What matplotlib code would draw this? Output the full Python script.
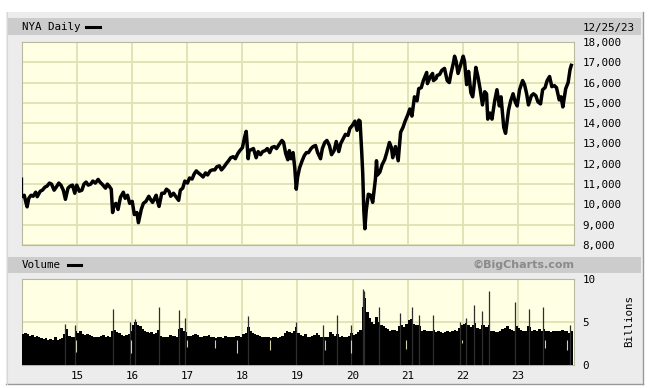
import matplotlib
matplotlib.use("Agg")
import matplotlib.pyplot as plt
import pandas as pd
from matplotlib.patches import Rectangle
from matplotlib.lines import Line2D

# ---------------- data ----------------
price_dates = [
    "2014-01-02", "2014-01-15", "2014-01-24", "2014-02-03", "2014-02-14", "2014-03-01", "2014-03-15",
    "2014-04-01", "2014-04-11", "2014-05-01", "2014-05-15", "2014-06-01", "2014-06-15", "2014-07-01",
    "2014-07-15", "2014-08-01", "2014-08-15", "2014-09-01", "2014-09-15", "2014-10-01", "2014-10-15",
    "2014-11-01", "2014-11-15", "2014-12-01", "2014-12-16", "2014-12-29",
    "2015-01-15", "2015-02-01", "2015-02-15", "2015-03-01", "2015-03-15", "2015-04-01", "2015-04-15",
    "2015-05-01", "2015-05-20", "2015-06-01", "2015-06-15", "2015-07-08", "2015-07-20", "2015-08-01",
    "2015-08-15", "2015-08-24", "2015-09-01", "2015-09-15", "2015-09-29", "2015-10-15", "2015-11-03",
    "2015-11-15", "2015-12-01", "2015-12-15",
    "2016-01-01", "2016-01-15", "2016-02-01", "2016-02-11", "2016-03-01", "2016-03-15", "2016-04-01",
    "2016-04-20", "2016-05-01", "2016-05-15", "2016-06-08", "2016-06-15", "2016-06-27", "2016-07-15",
    "2016-08-01", "2016-08-15", "2016-09-01", "2016-09-12", "2016-10-01", "2016-10-15", "2016-11-04",
    "2016-11-15", "2016-12-01", "2016-12-15",
    "2017-01-01", "2017-01-15", "2017-02-01", "2017-02-15", "2017-03-01", "2017-03-15", "2017-04-01",
    "2017-04-15", "2017-05-01", "2017-05-15", "2017-06-01", "2017-06-15", "2017-07-01", "2017-07-15",
    "2017-08-01", "2017-08-15", "2017-09-01", "2017-09-15", "2017-10-01", "2017-10-15", "2017-11-01",
    "2017-11-15", "2017-12-01", "2017-12-15",
    "2018-01-01", "2018-01-15", "2018-01-26", "2018-02-08", "2018-02-15", "2018-03-01", "2018-03-15",
    "2018-04-02", "2018-04-15", "2018-05-01", "2018-05-15", "2018-06-01", "2018-06-15", "2018-07-01",
    "2018-07-15", "2018-08-01", "2018-08-15", "2018-09-01", "2018-09-20", "2018-10-01", "2018-10-15",
    "2018-10-29", "2018-11-08", "2018-11-20", "2018-12-03", "2018-12-14", "2018-12-24",
    "2019-01-02", "2019-01-15", "2019-02-01", "2019-02-15", "2019-03-01", "2019-03-15", "2019-04-01",
    "2019-04-15", "2019-05-01", "2019-05-15", "2019-06-03", "2019-06-15", "2019-07-01", "2019-07-15",
    "2019-08-01", "2019-08-15", "2019-09-01", "2019-09-15", "2019-10-02", "2019-10-15", "2019-11-01",
    "2019-11-15", "2019-12-02", "2019-12-15",
    "2020-01-01", "2020-01-17", "2020-01-31", "2020-02-12", "2020-02-20", "2020-03-02", "2020-03-09",
    "2020-03-16", "2020-03-23", "2020-04-01", "2020-04-15", "2020-05-01", "2020-05-14", "2020-06-01",
    "2020-06-08", "2020-06-15", "2020-07-01", "2020-07-15", "2020-08-01", "2020-08-15", "2020-09-02",
    "2020-09-15", "2020-09-24", "2020-10-12", "2020-10-30", "2020-11-15", "2020-12-01", "2020-12-15",
    "2021-01-01", "2021-01-15", "2021-01-29", "2021-02-15", "2021-03-04", "2021-03-15", "2021-04-01",
    "2021-04-15", "2021-05-07", "2021-05-12", "2021-06-01", "2021-06-15", "2021-06-21", "2021-07-08",
    "2021-07-15", "2021-08-01", "2021-08-15", "2021-09-02", "2021-09-20", "2021-10-04", "2021-10-15",
    "2021-11-01", "2021-11-08", "2021-11-18", "2021-12-01", "2021-12-15",
    "2022-01-04", "2022-01-13", "2022-01-27", "2022-02-09", "2022-02-24", "2022-03-08", "2022-03-15",
    "2022-03-29", "2022-04-13", "2022-04-27", "2022-05-12", "2022-05-27", "2022-06-08", "2022-06-16",
    "2022-07-01", "2022-07-14", "2022-08-01", "2022-08-16", "2022-09-01", "2022-09-12", "2022-09-30",
    "2022-10-12", "2022-11-01", "2022-11-15", "2022-12-01", "2022-12-15", "2022-12-28",
    "2023-01-13", "2023-02-02", "2023-02-15", "2023-03-01", "2023-03-13", "2023-04-01", "2023-04-15",
    "2023-05-01", "2023-05-15", "2023-06-01", "2023-06-15", "2023-07-01", "2023-07-15", "2023-07-31",
    "2023-08-15", "2023-09-01", "2023-09-15", "2023-10-03", "2023-10-15", "2023-10-27", "2023-11-15",
    "2023-12-01", "2023-12-14", "2023-12-22",
]
price_values = [
    10400, 10450, 10150, 9880, 10300, 10450, 10400, 10600, 10380, 10650, 10700, 10850, 10900, 11050,
    11000, 10700, 10850, 11050, 10950, 10700, 10250, 10800, 10900, 10950, 10550, 10950,
    10650, 10700, 11000, 11100, 10950, 11000, 11150, 11050, 11230, 11100, 11000, 10800, 11000, 10900,
    10750, 9600, 9950, 10050, 9750, 10350, 10600, 10300, 10450, 10050,
    10150, 9500, 9600, 9100, 9750, 10050, 10150, 10400, 10250, 10100, 10450, 10200, 9900, 10550,
    10550, 10750, 10650, 10400, 10550, 10400, 10200, 10700, 10800, 11150,
    11050, 11300, 11250, 11500, 11650, 11550, 11450, 11350, 11550, 11450, 11650, 11700, 11700, 11850,
    11900, 11700, 11850, 12000, 12150, 12300, 12350, 12250, 12500, 12650,
    12800, 13300, 13600, 12250, 12650, 12700, 12750, 12300, 12600, 12450, 12600, 12650, 12750, 12550,
    12800, 12850, 12750, 12950, 13150, 13050, 12500, 12200, 12650, 12250, 12550, 11800, 10750,
    11350, 11800, 12150, 12400, 12550, 12550, 12750, 12850, 12900, 12550, 12250, 12750, 13050, 13150,
    12900, 12450, 12650, 13100, 12600, 13000, 13250, 13450, 13400, 13750,
    13900, 14100, 13650, 14150, 14100, 12600, 11500, 9700, 8800, 9700, 10500, 10450, 10100, 11250,
    12150, 11450, 11600, 11950, 12200, 12550, 13050, 12800, 12300, 12850, 12150, 13550, 13800, 14100,
    14400, 14700, 14350, 15300, 15100, 15700, 15750, 16100, 16500, 15950, 16300, 16450, 16100, 16200,
    16350, 16400, 16600, 16700, 16100, 16000, 16450, 17000, 17300, 17050, 16450, 16800,
    17300, 17050, 15900, 16550, 15500, 15300, 15700, 16750, 16250, 15650, 14900, 15550, 15450, 14200,
    14500, 14200, 15100, 15650, 14850, 15300, 13800, 13500, 14650, 15100, 15450, 15050, 14850,
    15650, 16100, 15900, 15450, 14900, 15350, 15450, 15350, 15050, 14950, 15650, 15750, 16100, 16300,
    15800, 15850, 15750, 15150, 15300, 14800, 15700, 16000, 16650, 16850,
]
first_bar_high = 11350

# volume (billions), semi-monthly levels, one row per year
vol_2014 = [3.6, 3.7, 3.6, 3.4, 3.5, 3.3, 3.4, 3.2, 3.1, 3.0, 3.1, 2.9, 3.0, 2.9, 3.2, 2.9, 3.0, 3.1, 3.6, 4.2, 3.4, 3.2, 3.3, 3.9]
vol_2015 = [3.7, 3.9, 3.6, 3.5, 3.6, 3.5, 3.4, 3.3, 3.3, 3.2, 3.4, 3.5, 3.3, 3.4, 3.2, 3.9, 4.1, 3.8, 3.7, 3.5, 3.4, 3.5, 3.6, 3.9]
vol_2016 = [4.6, 5.0, 4.7, 4.5, 4.2, 3.9, 3.8, 3.7, 3.8, 3.6, 3.7, 4.1, 3.4, 3.3, 3.2, 3.3, 3.5, 3.4, 3.4, 3.3, 4.2, 4.3, 3.9, 3.8]
vol_2017 = [3.4, 3.4, 3.5, 3.6, 3.5, 3.3, 3.3, 3.4, 3.4, 3.5, 3.2, 3.2, 3.1, 3.2, 3.3, 3.1, 3.4, 3.3, 3.2, 3.2, 3.3, 3.4, 3.4, 3.3]
vol_2018 = [3.6, 3.7, 4.4, 4.0, 3.7, 3.6, 3.5, 3.4, 3.3, 3.2, 3.3, 3.2, 3.1, 3.3, 3.2, 3.1, 3.3, 3.4, 3.7, 4.0, 3.8, 3.7, 3.9, 4.4]
vol_2019 = [3.7, 3.5, 3.4, 3.6, 3.3, 3.3, 3.4, 3.5, 3.7, 3.5, 3.3, 3.2, 3.3, 3.2, 3.8, 3.6, 3.4, 3.6, 3.3, 3.4, 3.2, 3.3, 3.4, 3.7]
vol_2020 = [3.5, 3.6, 3.8, 4.1, 6.8, 7.8, 6.2, 5.5, 5.0, 4.8, 5.6, 5.0, 4.6, 4.5, 4.3, 4.2, 4.0, 4.1, 4.1, 4.0, 4.5, 4.7, 4.4, 4.8]
vol_2021 = [5.2, 5.4, 4.8, 4.6, 4.7, 4.5, 4.0, 4.1, 3.9, 4.0, 4.0, 4.1, 3.8, 3.9, 3.8, 3.7, 3.8, 3.9, 3.8, 3.9, 4.1, 4.0, 4.3, 4.6]
vol_2022 = [4.8, 4.9, 4.6, 4.4, 4.7, 4.9, 4.3, 4.2, 4.7, 4.6, 4.4, 4.6, 3.9, 3.9, 3.8, 3.8, 4.0, 4.2, 4.3, 4.5, 4.2, 4.1, 4.0, 4.5]
vol_2023 = [4.3, 4.1, 4.0, 4.0, 4.5, 4.4, 4.0, 4.1, 4.0, 4.2, 4.0, 4.2, 3.9, 3.9, 3.8, 3.9, 3.9, 4.0, 4.0, 4.1, 3.9, 4.0, 3.7, 3.9]

spike_dates = ["2014-10-15", "2014-12-19", "2015-08-24", "2015-12-18", "2016-01-20", "2016-06-24",
               "2016-11-09", "2016-12-16", "2018-02-06", "2018-12-21", "2019-06-21", "2019-09-20",
               "2019-12-20", "2020-03-12", "2020-03-20", "2020-06-26", "2020-11-09", "2021-01-27",
               "2021-03-19", "2021-06-18", "2021-12-17", "2022-01-21", "2022-03-18", "2022-05-12",
               "2022-06-24", "2022-12-16", "2023-03-17", "2023-06-16", "2023-12-15"]
spike_values = [4.8, 4.7, 6.5, 5.0, 5.4, 6.8, 6.4, 5.5, 5.7, 5.0, 4.7, 5.8, 4.7, 8.8, 8.6, 6.7, 6.0,
                6.7, 5.8, 5.8, 5.0, 5.5, 7.0, 6.3, 8.6, 7.3, 6.5, 6.7, 4.7]

dip_dates = ["2014-12-24", "2015-12-24", "2016-12-27", "2017-07-03", "2017-11-24", "2018-07-03",
             "2019-07-03", "2019-12-24", "2020-12-24", "2021-12-24", "2023-07-03", "2023-11-24"]
dip_values = [1.5, 1.4, 2.1, 2.0, 1.4, 1.8, 1.8, 1.4, 1.9, 2.6, 2.0, 1.7]

year_labels = ["15", "16", "17", "18", "19", "20", "21", "22", "23"]
price_ticks = [8000, 9000, 10000, 11000, 12000, 13000, 14000, 15000, 16000, 17000, 18000]
vol_ticks = [0, 5, 10]

# ---------------- layout ----------------
W, H = 652, 388
fig = plt.figure(figsize=(W / 100, H / 100), dpi=100)
fig.patch.set_facecolor("white")


def fx(x):
    return x / W


def fy(y):
    return 1 - y / H


def rect(x0, y0, x1, y1, color, z=-5):
    fig.patches.append(Rectangle((fx(x0), fy(y1)), fx(x1) - fx(x0), fy(y0) - fy(y1),
                                 transform=fig.transFigure, facecolor=color, edgecolor="none", zorder=z))


def hline(x0, x1, y, color, lw):
    fig.lines.append(Line2D([fx(x0), fx(x1)], [fy(y), fy(y)], transform=fig.transFigure, color=color, lw=lw, zorder=-3))


def vline(x, y0, y1, color, lw):
    fig.lines.append(Line2D([fx(x), fx(x)], [fy(y0), fy(y1)], transform=fig.transFigure, color=color, lw=lw, zorder=-3))


rect(6, 12, 643, 384, "#ececec", -6)
vline(642.5, 12, 384, "#9a9a9a", 1.0)
hline(6, 643, 383.5, "#9a9a9a", 1.0)
vline(6.5, 12, 384, "#d8d8d8", 0.8)
rect(7, 18, 641, 35, "#cccccc", -5)
rect(7, 257, 641, 273, "#cccccc", -5)

MONO = "DejaVu Sans Mono"
TS = 7.8
fig.text(fx(22), fy(27), "NYA Daily", family=MONO, size=TS, va="center", ha="left")
hline(86, 100, 27, "black", 2.2)
fig.text(fx(635), fy(27.5), "12/25/23", family=MONO, size=TS, va="center", ha="right")
fig.text(fx(22), fy(265), "Volume", family=MONO, size=TS, va="center", ha="left")
hline(67.5, 80.5, 265, "black", 2.2)
fig.text(fx(574), fy(264.5), "\u00a9BigCharts.com", family="DejaVu Sans", weight="bold", size=8.0,
         color="#8a8a8a", va="center", ha="right")
fig.text(fx(629.5), fy(321), "Billions", family=MONO, size=TS, rotation=90, va="center", ha="center")

BG = "#ffffe3"
GRID = "#e1e1b4"

ax1 = fig.add_axes([fx(22), fy(245), fx(574) - fx(22), fy(42) - fy(245)])
ax2 = fig.add_axes([fx(22), fy(365), fx(574) - fx(22), fy(279) - fy(365)])

xmin, xmax = pd.Timestamp("2013-12-31"), pd.Timestamp("2024-01-09")
year_ticks = [pd.Timestamp(f"20{y}-01-01") for y in year_labels]

pdates = pd.to_datetime(price_dates)
ax1.plot(pdates, price_values, color="black", lw=2.5, solid_joinstyle="round", zorder=3)
ax1.vlines(pdates[0], price_values[0], first_bar_high, color="black", lw=0.9, zorder=3)

vol_values = vol_2014 + vol_2015 + vol_2016 + vol_2017 + vol_2018 + vol_2019 + vol_2020 + vol_2021 + vol_2022 + vol_2023
vol_dates = pd.date_range("2014-01-01", periods=len(vol_values), freq="SMS")
ax2.bar(vol_dates, vol_values, width=17, align="edge", color="black", lw=0, zorder=3)
ax2.vlines(pd.to_datetime(spike_dates), 0, spike_values, color="#2e2e2e", lw=0.9, zorder=4)
ax2.vlines(pd.to_datetime(dip_dates), dip_values, 2.9, color="#cfcfa8", lw=0.8, zorder=5)

for ax, ticks, lo, hi in ((ax1, price_ticks, 8000, 18000), (ax2, vol_ticks, 0, 10)):
    ax.set_facecolor(BG)
    ax.set_xlim(xmin, xmax)
    ax.set_ylim(lo, hi)
    ax.set_xticks(year_ticks)
    ax.yaxis.tick_right()
    ax.set_yticks(ticks)
    ax.tick_params(axis="both", length=0, pad=6, labelsize=TS)
    ax.grid(True, color=GRID, lw=1.3, zorder=0)
    ax.set_axisbelow(True)
    for s in ax.spines.values():
        s.set_color("#b9b9a2")
        s.set_linewidth(0.8)

ax1.set_xticklabels([])
ax1.set_yticklabels([f"{t:,}" for t in price_ticks])
ax2.set_xticklabels(year_labels)
ax2.set_yticks(vol_ticks, labels=[str(t) for t in vol_ticks])
ax2.yaxis.grid(False)
ax2.axhline(5, color=GRID, lw=1.3, zorder=1)
ax2.tick_params(axis="x", pad=4)
for ax in (ax1, ax2):
    for lab in ax.get_xticklabels() + ax.get_yticklabels():
        lab.set_family(MONO)

fig.savefig("out.png", dpi=100, facecolor=fig.get_facecolor())
